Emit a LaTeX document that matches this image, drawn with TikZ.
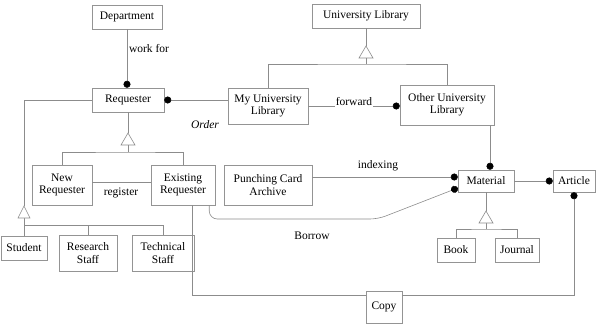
\documentclass[tikz,border=0pt]{standalone}
\usepackage{fontspec}
\setmainfont{Liberation Serif}
\usetikzlibrary{arrows.meta}
\begin{document}
\begin{tikzpicture}[x=1pt,y=-1pt,
  cls/.style={draw=black!42, line width=0.5pt, inner sep=2pt, align=center,
    font=\fontsize{11.5}{12.5}\selectfont, minimum height=24pt},
  lbl/.style={font=\fontsize{11.5}{12.5}\selectfont, inner sep=1pt},
  link/.style={draw=black!45, line width=0.6pt},
  many/.style={link, -{Circle[length=7pt, fill=black, color=black]}},
  gen/.style={draw=black!45, line width=0.6pt, fill=white}]
\useasboundingbox (0,0) rectangle (596,331);

% classes
\node[cls, minimum width=70pt] (dept) at (127,17) {Department};
\node[cls, minimum width=108pt] (ulib) at (366,16) {University Library};
\node[cls, minimum width=72pt] (req) at (128,100) {Requester};
\node[cls, minimum width=80pt, minimum height=36pt] (myul) at (268,106) {My University\\Library};
\node[cls, minimum width=94pt, minimum height=40pt] (oul) at (447,105) {Other University\\Library};
\node[cls, minimum width=60pt, minimum height=40pt] (newr) at (62,185) {New\\Requester};
\node[cls, minimum width=64pt, minimum height=40pt] (exr) at (183,185) {Existing\\Requester};
\node[cls, minimum width=88pt, minimum height=40pt] (pca) at (268,185) {Punching Card\\Archive};
\node[cls, minimum width=56pt, minimum height=22pt] (mat) at (486,181) {Material};
\node[cls, minimum width=42pt, minimum height=22pt] (art) at (574,181) {Article};
\node[cls, minimum width=46pt] (stud) at (24,248) {Student};
\node[cls, minimum width=58pt, minimum height=36pt] (rst) at (88,253) {Research\\Staff};
\node[cls, minimum width=62pt, minimum height=36pt] (tst) at (163,253) {Technical\\Staff};
\node[cls, minimum width=38pt] (book) at (456,250) {Book};
\node[cls, minimum width=44pt] (jour) at (517,250) {Journal};
\node[cls, minimum width=36pt, minimum height=32pt] (copy) at (384,307) {Copy};

% helper rows and columns for routing
\coordinate (idxrow) at (0,177);
\coordinate (borrowrow) at (0,188);
\coordinate (copyrow) at (0,295);
\coordinate (mtop) at (490,0);
\coordinate (bturn) at (378,219);

% associations
\draw[many] (dept.south) -- (dept.south |- req.north);
\draw[many] (myul.west |- req.east) -- (req.east);
\draw[many] (myul.east) -- (myul.east -| oul.west);
\draw[link] ([yshift=3pt]newr.east) -- ([yshift=3pt]exr.west);
\draw[many] (pca.east |- idxrow) -- (mat.west |- idxrow);
\draw[many, rounded corners=8pt] ([xshift=-6pt]exr.south east) |- (bturn) -- (mat.west |- borrowrow);
\draw[link] ([xshift=9pt]exr.south) |- (copy.west |- copyrow);
\draw[many] (copy.east |- copyrow) -| (art.south);
\draw[many] (mat.east) -- (art.west);
\draw[many] (oul.south -| mtop) -- (mat.north -| mtop);

% generalization: University Library
\coordinate (ulibT) at (366,46);
\coordinate (ulibB) at (366,58);
\coordinate (ulibbar) at (366,64);
\draw[link] (ulib.south) -- (ulibT);
\draw[link] (ulibB) -- (ulibbar);
\draw[link] (myul.north) |- (ulibbar) -| (oul.north);
\draw[gen] (ulibT) -- ++(-7,12) -- ++(14,0) -- cycle;

% generalization: Requester into New / Existing
\coordinate (reqT) at (128,133);
\coordinate (reqB) at (128,145);
\coordinate (reqbar) at (128,152);
\draw[link] (req.south) -- (reqT);
\draw[link] (reqB) -- (reqbar);
\draw[link] (newr.north) |- (reqbar) -| (exr.north);
\draw[gen] (reqT) -- ++(-7,12) -- ++(14,0) -- cycle;

% generalization: Requester into Student / Research Staff / Technical Staff
\coordinate (trunkT) at (24,206);
\coordinate (trunkB) at (24,218);
\coordinate (trunkbar) at (24,225);
\draw[link] (req.west) -| (trunkT);
\draw[link] (trunkB) -- (stud.north);
\draw[link] (trunkbar) -| (tst.north);
\draw[link] (rst.north) -- (rst.north |- trunkbar);
\draw[gen] (trunkT) -- ++(-6,12) -- ++(12,0) -- cycle;

% generalization: Material into Book / Journal
\coordinate (matT) at (486,211);
\coordinate (matB) at (486,223);
\coordinate (matbar) at (486,229);
\draw[link] (mat.south) -- (matT);
\draw[link] (matB) -- (matbar);
\draw[link] (book.north) |- (matbar) -| (jour.north);
\draw[gen] (matT) -- ++(-7,12) -- ++(14,0) -- cycle;

% association names
\node[lbl] (workfor) at (149,49) {work for};
\node[lbl] (order) at (205,125) {\itshape Order};
\node[lbl, fill=white] (fwd) at (354,102) {forward};
\node[lbl] (regl) at (121,193) {register};
\node[lbl] (idx) at (378,166) {indexing};
\node[lbl] (borrow) at (312,236) {Borrow};
\end{tikzpicture}
\end{document}
